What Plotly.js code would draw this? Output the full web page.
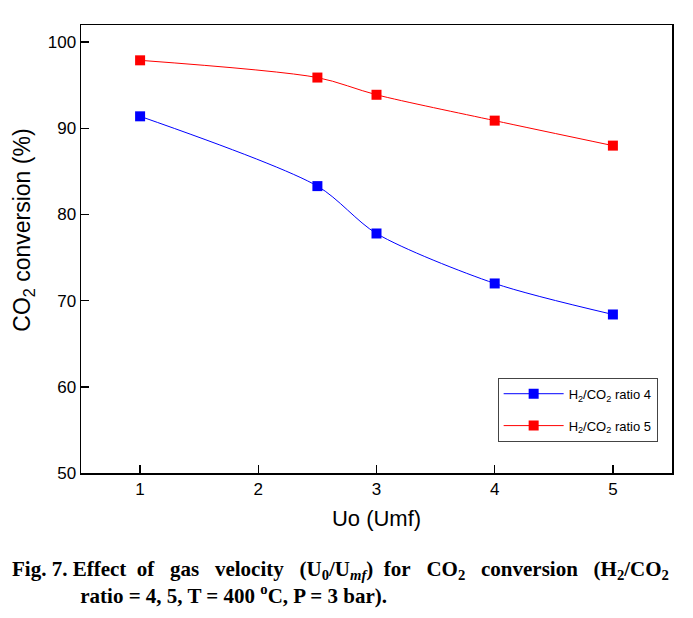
<!DOCTYPE html>
<html>
<head>
<meta charset="utf-8">
<script src="https://cdn.plot.ly/plotly-3.0.1.min.js"></script>
<style>
html,body{margin:0;padding:0;background:#fff;}
#chart{width:693px;height:618px;}
</style>
</head>
<body>
<div id="chart"></div>
<script>
const xValues = [1, 2.5, 3, 4, 5];
const ratio4 = [91.4, 83.3, 77.8, 72.0, 68.4];
const ratio5 = [97.9, 95.9, 93.9, 90.9, 88.0];
const seriesNames = ["H<sub>2</sub>/CO<sub>2</sub> ratio 4", "H<sub>2</sub>/CO<sub>2</sub> ratio 5"];
const xTicks = [1, 2, 3, 4, 5];
const yTicks = [50, 60, 70, 80, 90, 100];

const traces = [
  {x: xValues, y: ratio4, name: seriesNames[0], legendgroup: 'a', type: 'scatter', mode: 'lines+markers',
   line: {color: '#0000ff', width: 1, shape: 'spline', smoothing: 0.8},
   marker: {symbol: 'square', size: 10, color: '#0000ff'}},
  {x: xValues, y: ratio5, name: seriesNames[1], legendgroup: 'b', type: 'scatter', mode: 'lines+markers',
   line: {color: '#ff0000', width: 1, shape: 'spline', smoothing: 0.8},
   marker: {symbol: 'square', size: 10, color: '#ff0000'}}
];

const W = '&nbsp;&nbsp; ';
const S = '&nbsp; ';
const caption = '<b>Fig. 7. Effect' + S + 'of' + W + 'gas' + W + 'velocity' + W +
  '(U<sub>0</sub>/U<sub><i>mf</i></sub>)' + S + 'for' + W + 'CO<sub>2</sub>' + W + 'conversion' + W +
  '(H<sub>2</sub>/CO<sub>2</sub><br>' + '&nbsp;'.repeat(13) +
  'ratio = 4, 5, T = 400 <sup>o</sup>C, P = 3 bar).</b>';

const layout = {
  width: 693, height: 618,
  margin: {l: 81, r: 21, t: 25, b: 145},
  paper_bgcolor: '#fff', plot_bgcolor: '#fff',
  font: {family: 'Liberation Sans, Arial, sans-serif', color: '#000'},
  showlegend: true,
  legend: {x: 0.705, y: 0.2126, xanchor: 'left', yanchor: 'top',
    bordercolor: '#444', borderwidth: 1, bgcolor: '#fff',
    font: {size: 13, family: 'Liberation Sans, Arial, sans-serif'},
    tracegroupgap: 12, itemwidth: 60},
  xaxis: {range: [0.5, 5.5], tickvals: xTicks, ticktext: xTicks.map(String),
    ticks: 'inside', ticklen: 8, tickwidth: 1.5, tickcolor: '#000',
    showline: true, linecolor: '#000', linewidth: 1.5, mirror: true,
    showgrid: false, zeroline: false,
    tickfont: {size: 17},
    title: {text: 'Uo (Umf)', font: {size: 22}, standoff: 12}},
  yaxis: {range: [50, 102], tickvals: yTicks, ticktext: yTicks.map(String),
    ticks: 'inside', ticklen: 8, tickwidth: 1.5, tickcolor: '#000',
    showline: true, linecolor: '#000', linewidth: 1.5, mirror: true,
    showgrid: false, zeroline: false,
    tickfont: {size: 17}},
  annotations: [
    {xref: 'paper', yref: 'paper', x: -0.0964, y: 0.541, xanchor: 'center', yanchor: 'middle',
     showarrow: false, textangle: -90,
     text: 'CO<sub>2</sub> conversion (%)',
     font: {family: 'Liberation Sans, Arial, sans-serif', size: 23}},
    {xref: 'paper', yref: 'paper', x: -0.12, y: -0.182, xanchor: 'left', yanchor: 'top', showarrow: false,
     align: 'left', text: caption,
     font: {family: 'Liberation Serif, Times New Roman, serif', size: 21}}
  ]
};

Plotly.newPlot('chart', traces, layout, {displayModeBar: false, staticPlot: true});
</script>
</body>
</html>
